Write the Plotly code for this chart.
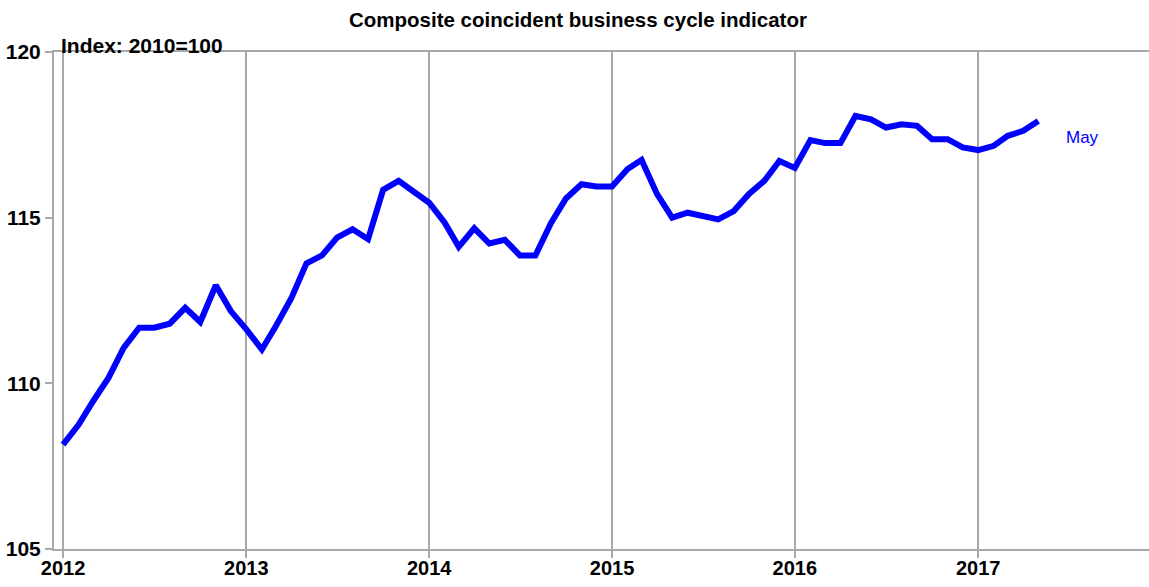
import plotly.graph_objects as go
import pandas as pd

months = pd.date_range("2012-01-01", "2017-05-01", freq="MS")
values = [
    108.15, 108.75, 109.46, 110.17, 111.07, 111.68, 111.68, 111.80, 112.28, 111.85, 112.96, 112.18,
    111.63, 111.02, 111.73, 112.58, 113.62, 113.86, 114.40, 114.65, 114.35, 115.84, 116.11, 115.81,
    115.45, 114.85, 114.12, 114.68, 114.22, 114.33, 113.86, 113.86, 114.83, 115.58, 116.01, 115.94,
    115.94, 116.47, 116.74, 115.71, 115.00, 115.15, 115.05, 114.95, 115.20, 115.71, 116.11, 116.71,
    116.50, 117.34, 117.25, 117.25, 118.07, 117.97, 117.72, 117.82, 117.77, 117.37, 117.37, 117.12,
    117.04, 117.17, 117.47, 117.62, 117.92,
]
year_ticks = [f"{y}-01-01" for y in range(2012, 2018)]
year_labels = [str(y) for y in range(2012, 2018)]
y_ticks = [105, 110, 115, 120]

GRID = "#A8A8A8"
FONT = "Liberation Sans, Arial, sans-serif"

fig = go.Figure()
fig.add_trace(go.Scatter(
    x=months, y=values, mode="lines",
    line=dict(color="#0000FF", width=6),
    hoverinfo="skip", showlegend=False,
))

fig.update_layout(
    width=1149, height=587,
    margin=dict(l=54, r=0, t=52, b=38, autoexpand=False),
    paper_bgcolor="white", plot_bgcolor="white",
    font=dict(family=FONT, color="black"),
    title=dict(
        text="<b>Composite coincident business cycle indicator</b>",
        x=0.503, xanchor="center", xref="container",
        y=1 - 20 / 587, yanchor="middle", yref="container",
        font=dict(size=20.5, family=FONT, color="black"),
    ),
    xaxis=dict(
        type="date", automargin=False,
        range=["2011-12-14", "2017-12-08"],
        tickvals=year_ticks, ticktext=[f"<b>{t}</b>" for t in year_labels],
        tickfont=dict(size=20, family=FONT, color="black"),
        ticklabelstandoff=-7,
        showgrid=True, gridcolor=GRID, gridwidth=2,
        showline=True, linecolor=GRID, linewidth=2, mirror=True,
        ticks="outside", ticklen=7, tickcolor=GRID, tickwidth=2,
        zeroline=False,
    ),
    yaxis=dict(
        range=[105, 120], automargin=False,
        tickvals=y_ticks, ticktext=[f"<b>{t}</b>" for t in y_ticks],
        tickfont=dict(size=21, family=FONT, color="black"),
        showgrid=False,
        showline=True, linecolor=GRID, linewidth=2,
        ticks="outside", ticklen=7, tickcolor=GRID, tickwidth=2,
        zeroline=False,
    ),
    annotations=[
        dict(
            text="<b>Index: 2010=100</b>", xref="paper", yref="paper",
            x=0.005, y=1, xanchor="left", yanchor="bottom", yshift=-7,
            showarrow=False, font=dict(size=21, family=FONT, color="black"),
        ),
        dict(
            text="May", xref="x", yref="y",
            x="2017-06-22", y=117.43, xanchor="left", yanchor="middle",
            showarrow=False, font=dict(size=17, family=FONT, color="#0000FF"),
        ),
    ],
)

fig.write_html(
    "out.html",
    config={"displayModeBar": False},
    post_script="document.body.style.margin='0';document.body.style.overflow='hidden';",
)
